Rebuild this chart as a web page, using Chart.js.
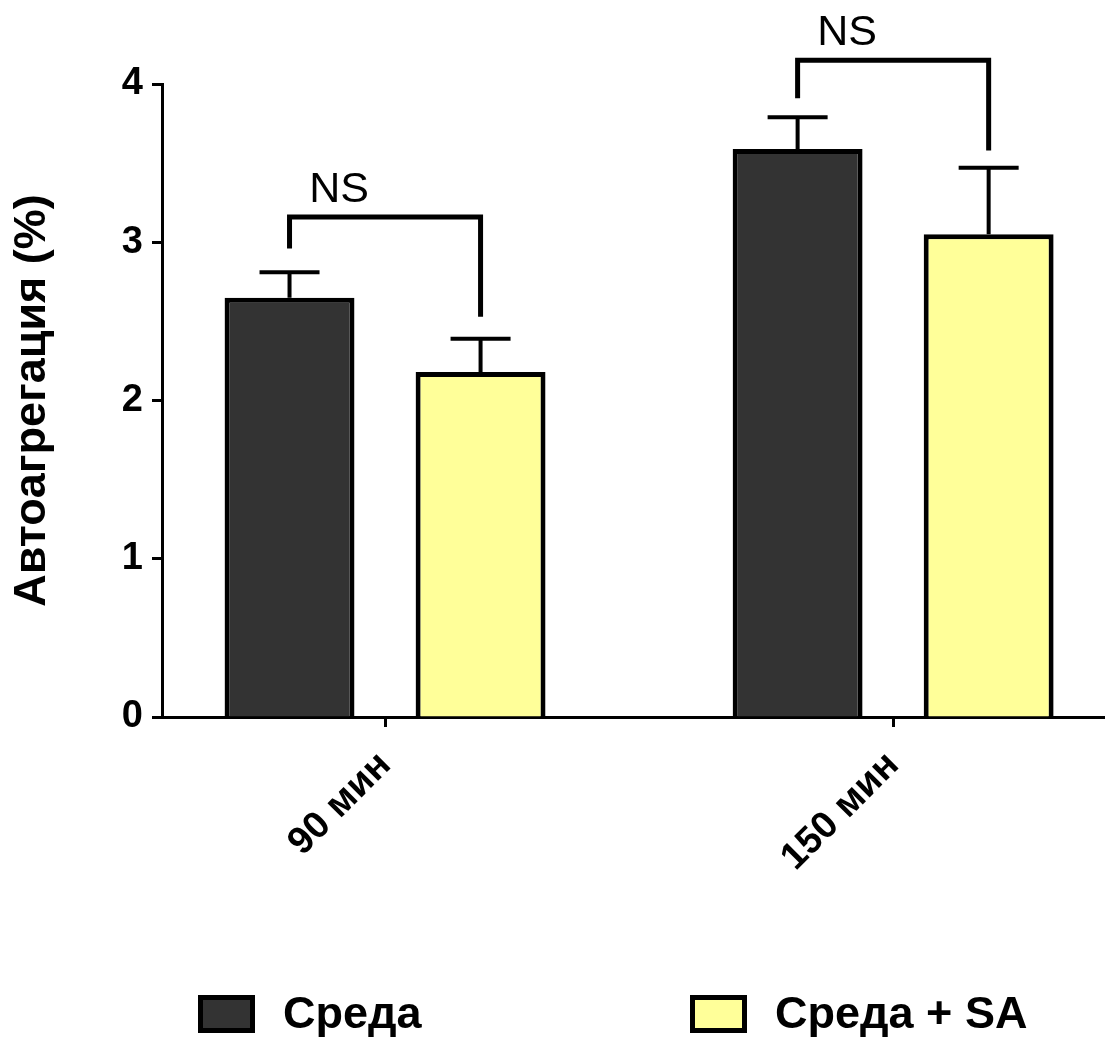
<!DOCTYPE html>
<html>
<head>
<meta charset="utf-8">
<script src="https://cdn.jsdelivr.net/npm/chart.js@4"></script>
<style>
  html, body { margin: 0; padding: 0; background: #fff; }
  #wrap { width: 1105px; height: 1039px; }
</style>
</head>
<body>
<div id="wrap"><canvas id="chart" width="1105" height="1039"></canvas></div>
<script>
// Time points and series
const categories = ['90 мин', '150 мин'];
const seriesLabels = ['Среда', 'Среда + SA'];
const mediumValues = [2.65, 3.59];
const mediumSem = [0.16, 0.20];
const saValues = [2.18, 3.05];
const saSem = [0.21, 0.42];
const yTicks = [0, 1, 2, 3, 4];

// Significance brackets per time point: top of bracket, end of left leg, end of right leg
const bracketTop = [3.16, 4.15];
const bracketLeftEnd = [2.96, 3.91];
const bracketRightEnd = [2.53, 3.58];
const bracketText = ['NS', 'NS'];

const FONT = "'Liberation Sans', Arial, sans-serif";
const colors = ['#333333', '#FFFF99'];
const semByDataset = [mediumSem, saSem];

// Upward-only SEM whiskers on every bar
const errorBars = {
  id: 'errorBars',
  afterDatasetsDraw(chart) {
    const ctx = chart.ctx;
    const y = chart.scales.y;
    ctx.save();
    ctx.strokeStyle = '#000';
    ctx.lineWidth = 4;
    ctx.lineCap = 'butt';
    chart.data.datasets.forEach((ds, di) => {
      const meta = chart.getDatasetMeta(di);
      meta.data.forEach((bar, i) => {
        const v = ds.data[i].y;
        const top = y.getPixelForValue(v + semByDataset[di][i]);
        const base = y.getPixelForValue(v);
        ctx.beginPath();
        ctx.moveTo(bar.x, base);
        ctx.lineTo(bar.x, top);
        ctx.moveTo(bar.x - 30, top);
        ctx.lineTo(bar.x + 30, top);
        ctx.stroke();
      });
    });
    ctx.restore();
  }
};

// Comparison brackets with their labels
const brackets = {
  id: 'brackets',
  afterDatasetsDraw(chart) {
    const ctx = chart.ctx;
    const y = chart.scales.y;
    const m0 = chart.getDatasetMeta(0);
    const m1 = chart.getDatasetMeta(1);
    ctx.save();
    ctx.strokeStyle = '#000';
    ctx.lineWidth = 5;
    ctx.lineJoin = 'miter';
    ctx.lineCap = 'butt';
    categories.forEach((c, i) => {
      const x0 = m0.data[i].x;
      const x1 = m1.data[i].x;
      const yt = y.getPixelForValue(bracketTop[i]);
      ctx.beginPath();
      ctx.moveTo(x0, y.getPixelForValue(bracketLeftEnd[i]));
      ctx.lineTo(x0, yt);
      ctx.lineTo(x1, yt);
      ctx.lineTo(x1, y.getPixelForValue(bracketRightEnd[i]));
      ctx.stroke();
      ctx.fillStyle = '#000';
      ctx.font = `43px ${FONT}`;
      ctx.textAlign = 'center';
      ctx.textBaseline = 'alphabetic';
      ctx.fillText(bracketText[i], (x0 + x1) / 2 - 46, yt - 15);
    });
    ctx.restore();
  }
};

// Legend row under the axis labels
const legendRow = {
  id: 'legendRow',
  afterDraw(chart) {
    const ctx = chart.ctx;
    const slots = [{ box: 198, text: 283 }, { box: 690, text: 775 }];
    ctx.save();
    chart.data.datasets.forEach((ds, i) => {
      const s = slots[i];
      ctx.fillStyle = ds.backgroundColor;
      ctx.fillRect(s.box, 995, 57, 38);
      ctx.strokeStyle = '#000';
      ctx.lineWidth = 5;
      ctx.strokeRect(s.box + 2.5, 997.5, 52, 33);
      ctx.fillStyle = '#000';
      ctx.font = `bold 45px ${FONT}`;
      ctx.textAlign = 'left';
      ctx.textBaseline = 'middle';
      ctx.fillText(ds.label, s.text, 1016);
    });
    ctx.restore();
  }
};

const toPoints = vals => vals.map((v, i) => ({ x: i, y: v }));

new Chart(document.getElementById('chart'), {
  type: 'bar',
  data: {
    datasets: [
      { label: seriesLabels[0], data: toPoints(mediumValues), backgroundColor: colors[0] },
      { label: seriesLabels[1], data: toPoints(saValues), backgroundColor: colors[1] }
    ]
  },
  options: {
    responsive: false,
    animation: false,
    devicePixelRatio: 1,
    layout: { padding: { top: 84, right: 0, bottom: 0, left: 0 } },
    datasets: {
      bar: {
        borderColor: '#000',
        borderWidth: 5,
        borderSkipped: 'start',
        barPercentage: 0.68,
        categoryPercentage: 0.752
      }
    },
    plugins: {
      legend: { display: false },
      tooltip: { enabled: false }
    },
    scales: {
      x: {
        type: 'linear',
        offset: false,
        bounds: 'data',
        min: -0.439,
        max: 1.417,
        afterBuildTicks(scale) {
          scale.ticks = categories.map((c, i) => ({ value: i }));
        },
        afterFit(scale) { scale.height = 322; },
        ticks: {
          callback: (v, idx) => categories[idx],
          minRotation: 45,
          maxRotation: 45,
          padding: 16,
          color: '#000',
          font: { family: FONT, size: 38, weight: 'bold' }
        },
        grid: {
          offset: false,
          drawOnChartArea: false,
          drawTicks: true,
          tickLength: 10,
          tickWidth: 3,
          tickColor: '#000'
        },
        border: { color: '#000', width: 3 }
      },
      y: {
        min: 0,
        max: 4,
        afterBuildTicks(scale) {
          scale.ticks = yTicks.map(v => ({ value: v }));
        },
        afterFit(scale) { scale.width = 162; },
        ticks: {
          padding: 9,
          color: '#000',
          font: { family: FONT, size: 38, weight: 'bold' }
        },
        grid: {
          drawOnChartArea: false,
          drawTicks: true,
          tickLength: 10,
          tickWidth: 3,
          tickColor: '#000'
        },
        border: { color: '#000', width: 3 },
        title: {
          display: true,
          text: 'Автоагрегация (%)',
          color: '#000',
          padding: { top: 6, bottom: 0 },
          font: { family: FONT, size: 45, weight: 'bold' }
        }
      }
    }
  },
  plugins: [errorBars, brackets, legendRow]
});
</script>
</body>
</html>
